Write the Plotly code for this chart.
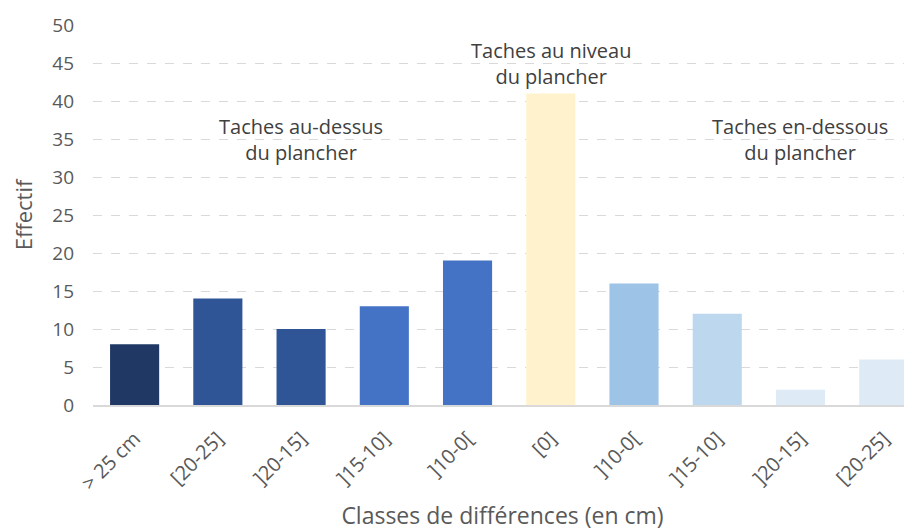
import plotly.graph_objects as go

# classes de différences (les libellés se répètent de part et d'autre du plancher)
classes = ["> 25 cm", "[20-25]", "]20-15]", "]15-10]", "]10-0[",
           "[0]", "]10-0[", "]15-10]", "]20-15]", "[20-25]"]
effectifs = [8, 14, 10, 13, 19, 41, 16, 12, 2, 6]
couleurs = ["#203864", "#2F5597", "#2F5597", "#4472C4", "#4472C4",
            "#FFF2CC", "#9DC3E6", "#BDD7EE", "#DEEBF7", "#DEEBF7"]

groupes = ["Taches au-dessus<br>du plancher",
           "Taches au niveau<br>du plancher",
           "Taches en-dessous<br>du plancher"]
groupes_x = [2, 5, 8]
groupes_y = [35, 45, 35]

positions = list(range(len(classes)))
gris = "#595959"
police = "Open Sans, Liberation Sans, sans-serif"

fig = go.Figure()
fig.add_trace(go.Bar(
    x=positions, y=effectifs,
    marker=dict(color=couleurs, line=dict(width=0)),
    width=0.59, showlegend=False,
))

for txt, gx, gy in zip(groupes, groupes_x, groupes_y):
    fig.add_annotation(x=gx, y=gy, text=txt, showarrow=False,
                       font=dict(size=20, color="#404040", family=police))

# la page ajoute 8 px de marge autour du graphique
fig.update_layout(
    width=904, height=523,
    margin=dict(l=85, r=0, t=17, b=126),
    plot_bgcolor="white", paper_bgcolor="white",
    font=dict(family=police, color=gris, size=19),
)
fig.update_xaxes(
    tickmode="array", tickvals=positions, ticktext=classes,
    tickangle=-45, range=[-0.5, 9.34], automargin=False,
    showgrid=False, showline=True, linecolor="#d9d9d9", linewidth=2,
    ticks="", ticklabelstandoff=12, tickfont=dict(size=20),
    title=dict(text="Classes de différences (en cm)", font=dict(size=23, color=gris), standoff=16),
)
fig.update_yaxes(
    range=[0, 50], dtick=5, automargin=False,
    showgrid=True, gridcolor="#d9d9d9", griddash="dash", gridwidth=1,
    zeroline=False, ticks="", ticklabelstandoff=18,
    title=dict(text="Effectif", font=dict(size=22, color=gris), standoff=14),
)

fig.write_html("out.html")
